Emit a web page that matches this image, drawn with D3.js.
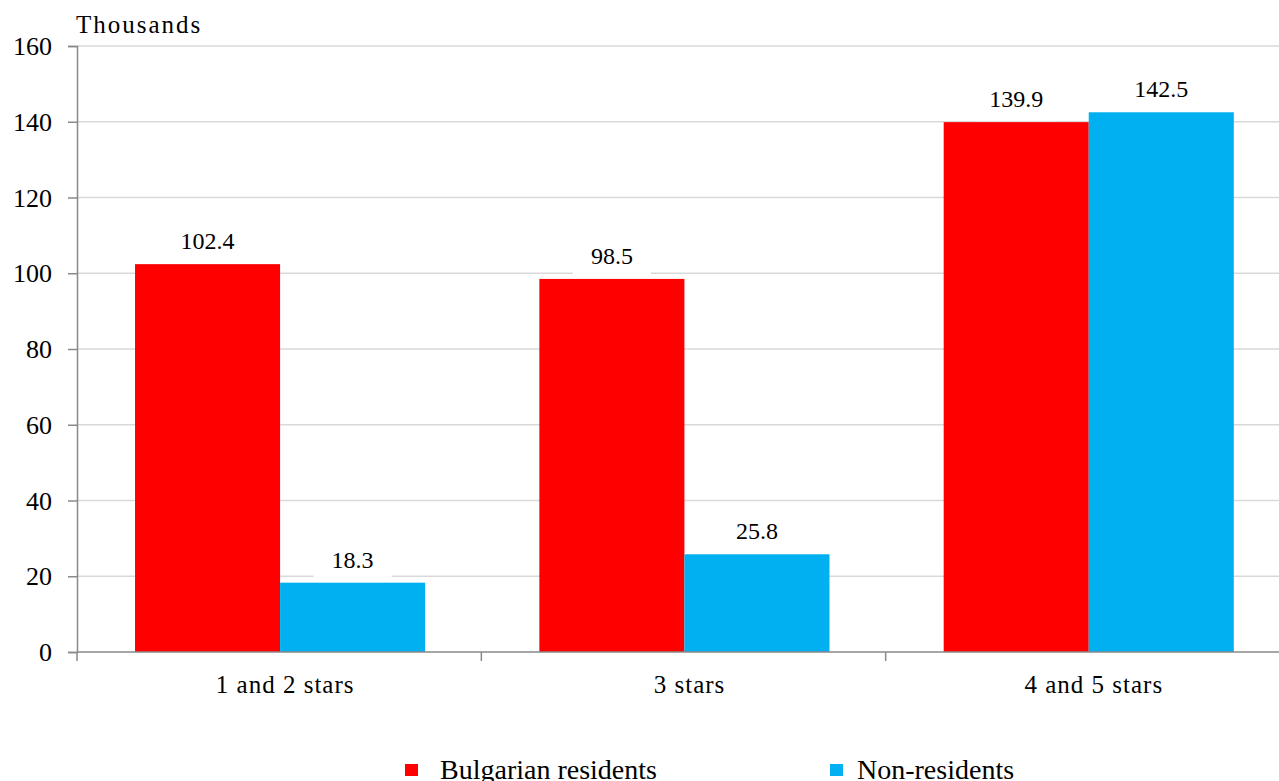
<!DOCTYPE html>
<html>
<head>
<meta charset="utf-8">
<script src="https://cdn.jsdelivr.net/npm/d3@7"></script>
<style>
  body { margin: 0; background: #fff; }
  svg text { font-family: "Liberation Serif", "DejaVu Serif", serif; fill: #000; }
</style>
</head>
<body>
<script>
// Chart data
var categories = ["1 and 2 stars", "3 stars", "4 and 5 stars"];
var seriesNames = ["Bulgarian residents", "Non-residents"];
var residents = [102.4, 98.5, 139.9];
var nonResidents = [18.3, 25.8, 142.5];
var yTicks = [0, 20, 40, 60, 80, 100, 120, 140, 160];
var colors = ["#ff0000", "#00b0f0"];

// Chart params
var svgWidth = 1279;
var svgHeight = 781;
var plotLeft = 77, plotRight = 1290, plotTop = 46, plotBottom = 652;

var svg = d3.select("body")
  .append("svg")
  .attr("width", svgWidth)
  .attr("height", svgHeight)
  .attr("font-family", "Liberation Serif");

var rows = categories.map(function(c, i) {
  return { cat: c, values: [residents[i], nonResidents[i]] };
});

// scales
var x0 = d3.scaleBand()
  .domain(categories)
  .range([plotLeft, plotRight]);

var bw = x0.bandwidth();
var x1 = d3.scaleBand()
  .domain(seriesNames)
  .range([bw * 0.1435, bw * 0.861]);

var y = d3.scaleLinear()
  .domain([0, 160])
  .range([plotBottom, plotTop]);

// gridlines
svg.append("g")
  .selectAll("line")
  .data(yTicks.filter(d => d > 0))
  .enter()
  .append("line")
    .attr("x1", plotLeft)
    .attr("x2", svgWidth)
    .attr("y1", d => y(d))
    .attr("y2", d => y(d))
    .attr("stroke", "#d9d9d9")
    .attr("stroke-width", 1.5);

// bars
var groups = svg.selectAll(".grp")
  .data(rows)
  .enter()
  .append("g")
    .attr("class", "grp")
    .attr("transform", d => `translate(${x0(d.cat)}, 0)`);

groups.selectAll("rect")
  .data(d => d.values.map((v, j) => ({ name: seriesNames[j], v: v, j: j })))
  .enter()
  .append("rect")
    .attr("x", d => x1(d.name))
    .attr("y", d => y(d.v))
    .attr("width", x1.bandwidth())
    .attr("height", d => plotBottom - y(d.v))
    .attr("fill", d => colors[d.j]);

// data labels with white box
var labels = groups.selectAll(".lbl")
  .data(d => d.values.map((v, j) => ({ name: seriesNames[j], v: v, j: j })))
  .enter()
  .append("g")
    .attr("class", "lbl");

labels.append("rect")
  .attr("x", d => x1(d.name) + x1.bandwidth() / 2 - 39)
  .attr("y", d => y(d.v) - 37)
  .attr("width", 78)
  .attr("height", 36)
  .attr("fill", "#fff");

labels.append("text")
  .attr("x", d => x1(d.name) + x1.bandwidth() / 2)
  .attr("y", d => y(d.v) - 15)
  .attr("text-anchor", "middle")
  .style("font-size", "24px")
  .text(d => d.v.toFixed(1));

// y axis
var leftAxis = d3.axisLeft(y).tickValues(yTicks).tickSize(9).tickPadding(16);
var gy = svg.append("g")
  .attr("transform", `translate(${plotLeft}, 0)`)
  .call(leftAxis);
gy.attr("font-family", null).attr("font-size", null);
gy.select(".domain").attr("stroke", "#898989").attr("stroke-width", 1.5);
gy.selectAll(".tick line").attr("stroke", "#898989").attr("stroke-width", 1.5);
gy.selectAll(".tick text")
  .style("font-size", "26px")
  .attr("dy", "0.33em");

// x axis
svg.append("line")
  .attr("x1", plotLeft).attr("x2", svgWidth)
  .attr("y1", plotBottom).attr("y2", plotBottom)
  .attr("stroke", "#898989").attr("stroke-width", 1.5);

svg.append("g")
  .selectAll("line")
  .data(categories)
  .enter()
  .append("line")
    .attr("x1", d => x0(d))
    .attr("x2", d => x0(d))
    .attr("y1", plotBottom)
    .attr("y2", plotBottom + 9)
    .attr("stroke", "#898989")
    .attr("stroke-width", 1.5);

svg.append("g")
  .selectAll("text")
  .data(categories)
  .enter()
  .append("text")
    .attr("x", d => x0(d) + bw / 2 + 6)
    .attr("y", 693)
    .attr("text-anchor", "middle")
    .style("font-size", "25px")
    .style("letter-spacing", "1px")
    .text(d => d);

// unit label
svg.append("text")
  .attr("x", 76)
  .attr("y", 33)
  .style("font-size", "25px")
  .style("letter-spacing", "2px")
  .text("Thousands");

// legend
var legendX = [405, 830];
var legend = svg.selectAll(".legend")
  .data(seriesNames)
  .enter()
  .append("g")
    .attr("class", "legend")
    .attr("transform", (d, i) => `translate(${legendX[i]}, 764)`);

legend.append("rect")
  .attr("width", 13)
  .attr("height", 12)
  .attr("fill", (d, i) => colors[i]);

legend.append("text")
  .attr("x", (d, i) => i === 0 ? 35 : 27)
  .attr("y", 15)
  .style("font-size", "28px")
  .text(d => d);
</script>
</body>
</html>
